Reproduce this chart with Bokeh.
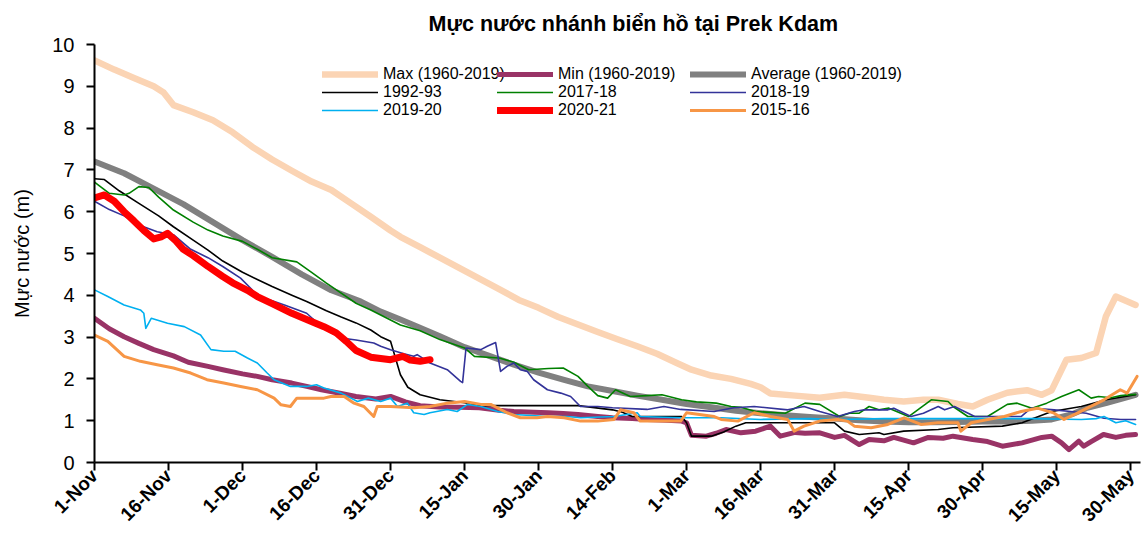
import math
from bokeh.plotting import figure
from bokeh.models import Legend, LegendItem, FixedTicker, Range1d
from bokeh.embed import file_html
from bokeh.resources import INLINE

# ---------------- data (day 0 = 1-Nov) ----------------
tick_days = [0, 15, 30, 45, 60, 75, 90, 105, 120, 135, 150, 165, 180, 195, 210]
tick_labels = ["1-Nov", "16-Nov", "1-Dec", "16-Dec", "31-Dec", "15-Jan", "30-Jan",
               "14-Feb", "1-Mar", "16-Mar", "31-Mar", "15-Apr", "30-Apr", "15-May", "30-May"]

max_days = [0, 4, 8, 12, 14, 16, 20, 24, 28, 32, 36, 40, 44, 48, 52, 56, 60, 62, 66, 70, 74, 78,
            82, 86, 90, 94, 98, 102, 106, 110, 114, 118, 121, 125, 129, 133, 135, 137, 142, 147,
            152, 157, 160, 164, 168, 171, 175, 178, 181, 185, 189, 192, 194, 197, 200, 203, 205,
            207, 211]
max_vals = [9.62, 9.4, 9.2, 9.0, 8.85, 8.55, 8.38, 8.19, 7.9, 7.55, 7.25, 6.98, 6.72, 6.52, 6.2,
            5.88, 5.55, 5.4, 5.15, 4.9, 4.65, 4.4, 4.15, 3.89, 3.7, 3.48, 3.3, 3.12, 2.95, 2.78,
            2.6, 2.38, 2.22, 2.08, 2.0, 1.88, 1.8, 1.65, 1.6, 1.55, 1.62, 1.55, 1.5, 1.46, 1.5,
            1.5, 1.4, 1.34, 1.5, 1.67, 1.73, 1.62, 1.73, 2.46, 2.5, 2.62, 3.5, 3.97, 3.77]

min_days = [0, 3, 6, 9, 12, 16, 19, 23, 26, 30, 33, 36, 40, 43, 46, 50, 53, 57, 60, 63, 66, 70,
            74, 78, 82, 85, 89, 92, 95, 98, 102, 105, 109, 112, 116, 119, 120, 121, 124, 126, 128,
            131, 134, 137, 139, 142, 144, 147, 150, 152, 155, 157, 160, 162, 166, 169, 172, 174,
            178, 181, 184, 188, 192, 194, 196, 197.5, 199.5, 200.5, 202, 204.5, 207, 209, 211]
min_vals = [3.45, 3.2, 3.01, 2.85, 2.7, 2.55, 2.4, 2.3, 2.22, 2.12, 2.06, 1.98, 1.9, 1.82, 1.74,
            1.65, 1.58, 1.52, 1.58, 1.45, 1.36, 1.33, 1.32, 1.31, 1.25, 1.22, 1.2, 1.19, 1.17,
            1.15, 1.1, 1.07, 1.05, 1.03, 1.01, 0.99, 0.95, 0.65, 0.63, 0.7, 0.79, 0.71, 0.75,
            0.87, 0.63, 0.72, 0.7, 0.71, 0.6, 0.65, 0.43, 0.55, 0.52, 0.6, 0.47, 0.6, 0.58, 0.63,
            0.55, 0.5, 0.39, 0.47, 0.6, 0.63, 0.47, 0.31, 0.51, 0.39, 0.5, 0.67, 0.6, 0.65, 0.67]

avg_days = [0, 6, 12, 18, 24, 30, 36, 42, 48, 54, 58, 62, 65, 70, 75, 80, 85, 90, 95, 100, 105,
            110, 115, 120, 125, 130, 135, 140, 145, 150, 155, 160, 165, 170, 175, 180, 185, 190,
            194, 198, 201, 205, 211]
avg_vals = [7.2, 6.92, 6.55, 6.18, 5.75, 5.32, 4.92, 4.5, 4.12, 3.85, 3.61, 3.42, 3.27, 3.02,
            2.76, 2.55, 2.34, 2.15, 1.98, 1.82, 1.71, 1.6, 1.5, 1.4, 1.32, 1.24, 1.18, 1.13, 1.09,
            1.05, 1.01, 0.98, 0.96, 0.96, 0.97, 0.98, 0.98, 1.0, 1.03, 1.15, 1.3, 1.42, 1.62]

y9293_days = [0, 2, 5, 9, 13, 16, 20, 23, 26, 30, 33, 36, 40, 43, 47, 50, 53, 56, 58, 60, 61, 62,
              63.5, 66, 70, 75, 78, 98, 105, 107, 109, 119, 120, 121, 125, 127.5, 130, 132, 150,
              152, 155, 159, 160, 164, 171, 174, 184, 188, 194, 200, 205, 211]
y9293_vals = [6.79, 6.77, 6.5, 6.2, 5.9, 5.64, 5.32, 5.08, 4.82, 4.55, 4.38, 4.21, 4.0, 3.85,
              3.63, 3.48, 3.34, 3.17, 3.01, 2.9, 2.5, 2.1, 1.8, 1.62, 1.5, 1.43, 1.36, 1.36, 1.26,
              1.2, 1.1, 1.1, 0.95, 0.63, 0.63, 0.73, 0.87, 0.95, 0.95, 0.75, 0.67, 0.71, 0.67,
              0.75, 0.79, 0.83, 0.87, 0.95, 1.22, 1.34, 1.5, 1.62]

y1718_days = [0, 3, 6, 7, 9, 11, 13, 16, 20, 23, 26, 30, 33, 36, 41, 44, 47, 50, 53, 56, 58, 62,
              66, 70, 75, 77, 82, 85, 88, 92, 95, 98, 100, 102, 104, 105.6, 108.6, 112, 115, 119,
              122, 126, 129, 131, 134, 140, 144, 147, 151, 153, 155, 157, 159, 161, 165, 169.6,
              173, 174, 177, 181, 185, 187, 190, 193, 196, 199.5, 202, 203.5, 206, 208, 211]
y1718_vals = [6.71, 6.44, 6.4, 6.44, 6.6, 6.58, 6.35, 6.04, 5.75, 5.56, 5.42, 5.29, 5.1, 4.9,
              4.8, 4.55, 4.29, 4.05, 3.81, 3.65, 3.53, 3.29, 3.15, 2.94, 2.74, 2.54, 2.5, 2.4,
              2.22, 2.25, 2.26, 2.06, 1.82, 1.6, 1.54, 1.74, 1.58, 1.6, 1.62, 1.5, 1.45, 1.42,
              1.34, 1.32, 1.22, 1.18, 1.42, 1.39, 1.1, 1.18, 1.18, 1.34, 1.26, 1.3, 1.1, 1.5,
              1.46, 1.34, 1.1, 1.1, 1.39, 1.42, 1.3, 1.42, 1.58, 1.74, 1.54, 1.58, 1.55, 1.6, 1.63]

y1819_days = [0, 3, 6, 9, 12.7, 16, 19.5, 23, 26, 29.6, 31.8, 33, 36, 38.5, 43, 46.5, 50, 53,
              56.6, 58, 60, 62.7, 64.7, 65.4, 68, 71.5, 74.2, 74.6, 75.3, 78.3, 79.6, 81.3, 82.3,
              83.6, 85, 86.3, 87.7, 89, 91.8, 94.5, 96.5, 98.5, 102, 105, 112, 115.4, 118.8,
              125.6, 129.6, 133.7, 140.5, 143.8, 147, 150.6, 154, 156, 160.8, 162, 165.5, 168,
              171, 172.3, 174.3, 178.4, 187.8, 189.8, 194.5, 197.8, 201, 204.6, 208, 211]
y1819_vals = [6.25, 6.05, 5.9, 5.68, 5.52, 5.45, 5.1, 4.9, 4.69, 4.41, 4.15, 3.98, 3.87, 3.77,
              3.57, 3.2, 2.98, 2.93, 2.86, 2.78, 2.7, 2.6, 2.54, 2.58, 2.38, 2.22, 1.94, 1.91,
              2.74, 2.7, 2.78, 2.87, 2.18, 2.3, 2.38, 2.22, 2.18, 1.98, 1.74, 1.66, 1.58, 1.34,
              1.34, 1.31, 1.27, 1.34, 1.27, 1.22, 1.31, 1.34, 1.26, 1.34, 1.22, 1.1, 1.22, 1.26,
              1.26, 1.3, 1.1, 1.18, 1.34, 1.26, 1.34, 1.1, 1.1, 1.3, 1.26, 1.22, 1.18, 1.06,
              1.03, 1.03]

y1920_days = [0, 2.7, 6, 9.3, 10, 10.4, 11.5, 14.8, 18.2, 21.5, 23.6, 26.2, 28.5, 31, 33, 35,
              36.4, 39.7, 43, 45, 46.5, 50, 53.3, 55.5, 58, 60, 61.4, 63.4, 64.7, 66.8, 68, 71.5,
              73.5, 74.6, 75.6, 78.3, 81.7, 85, 91.8, 95.8, 98.5, 105.3, 110, 110.6, 118.8, 127,
              135, 145, 150, 160, 170, 180, 190, 200, 203, 204.6, 207, 209, 211]
y1920_vals = [4.13, 3.97, 3.77, 3.65, 3.57, 3.21, 3.45, 3.33, 3.25, 3.05, 2.7, 2.66, 2.66, 2.5,
              2.38, 2.14, 1.98, 1.82, 1.82, 1.86, 1.78, 1.66, 1.46, 1.54, 1.46, 1.54, 1.34, 1.42,
              1.19, 1.15, 1.19, 1.27, 1.22, 1.31, 1.39, 1.34, 1.22, 1.15, 1.1, 1.1, 1.07, 1.1,
              1.19, 1.1, 1.07, 1.07, 1.03, 1.05, 1.03, 1.05, 1.05, 1.05, 1.05, 1.03, 1.05, 1.1,
              0.95, 1.0, 0.91]

y2021_days = [0, 2, 4, 6, 8, 10, 12, 13.5, 14.8, 16.5, 18, 20, 23, 26, 28, 31, 33, 36, 40, 43,
              46.5, 49, 51, 53, 56, 60, 62.5, 64, 66, 68]
y2021_vals = [6.33, 6.4, 6.25, 6.0, 5.78, 5.55, 5.35, 5.4, 5.48, 5.3, 5.1, 4.95, 4.69, 4.45,
              4.3, 4.12, 3.97, 3.8, 3.57, 3.42, 3.25, 3.1, 2.9, 2.68, 2.52, 2.46, 2.54, 2.45,
              2.42, 2.46]

y1516_days = [0, 2.7, 6, 9.3, 12.7, 16, 19.5, 22.8, 26.2, 29.6, 33, 36.4, 37.8, 39.7, 41, 42.4,
              46.5, 47.9, 50.6, 52.6, 54.6, 56.6, 57.3, 60, 64.7, 68, 71.5, 75, 78.3, 80.3, 83.6,
              86.3, 89.7, 91.8, 95.2, 98.5, 102, 105.3, 106.6, 109.3, 110.6, 115.4, 118.8, 120,
              125.6, 127, 130.4, 133.7, 137, 140.5, 141.8, 143.8, 147, 150.6, 152.6, 154, 157.4,
              160.8, 164.1, 167.5, 170.9, 175, 175.6, 177.7, 181, 184.4, 187.8, 191.1, 194.5,
              196.5, 199.2, 201.2, 204.6, 207.9, 209.3, 211.3]
y1516_vals = [3.05, 2.9, 2.54, 2.42, 2.34, 2.26, 2.14, 1.98, 1.9, 1.82, 1.74, 1.54, 1.38, 1.34,
              1.54, 1.54, 1.54, 1.58, 1.58, 1.42, 1.34, 1.1, 1.34, 1.34, 1.31, 1.34, 1.42, 1.46,
              1.39, 1.39, 1.19, 1.07, 1.07, 1.1, 1.07, 0.99, 0.99, 1.03, 1.26, 1.19, 0.99, 0.99,
              0.99, 1.19, 1.1, 1.03, 0.99, 1.19, 1.1, 1.03, 0.75, 0.87, 0.99, 1.03, 0.99, 0.87,
              0.83, 0.91, 1.07, 0.91, 0.95, 0.95, 0.75, 0.95, 1.03, 1.1, 1.22, 1.3, 1.18, 1.03,
              1.18, 1.3, 1.5, 1.74, 1.66, 2.06]

series = [
    ("Max (1960-2019)", max_days, max_vals, "#FBD4B4", 6.5),
    ("Min (1960-2019)", min_days, min_vals, "#993366", 5),
    ("Average (1960-2019)", avg_days, avg_vals, "#808080", 6),
    ("1992-93", y9293_days, y9293_vals, "#000000", 1.6),
    ("2017-18", y1718_days, y1718_vals, "#008000", 1.6),
    ("2018-19", y1819_days, y1819_vals, "#333399", 1.6),
    ("2019-20", y1920_days, y1920_vals, "#00B0F0", 1.6),
    ("2020-21", y2021_days, y2021_vals, "#FF0000", 7),
    ("2015-16", y1516_days, y1516_vals, "#F79646", 3),
]

FONT = "Liberation Sans"

p = figure(width=1142, height=535, output_backend="svg", toolbar_location=None,
           x_range=Range1d(0, 212), y_range=Range1d(0, 10),
           min_border_left=94, min_border_right=2, min_border_top=44, min_border_bottom=60)
p.outline_line_color = None
p.xgrid.visible = False
p.ygrid.visible = False
p.background_fill_color = "white"

p.title.text = "Mực nước nhánh biển hồ tại Prek Kdam"
p.title.align = "left"
p.title.offset = 334
p.title.text_font = FONT
p.title.text_font_size = "21.5px"
p.title.text_font_style = "bold"
p.title.text_color = "black"
p.title.standoff = 18

xa = p.xaxis[0]
xa.ticker = FixedTicker(ticks=tick_days)
xa.major_label_overrides = {d: lab for d, lab in zip(tick_days, tick_labels)}
xa.major_label_orientation = math.pi / 4
xa.major_label_text_font = FONT
xa.major_label_text_font_size = "19px"
xa.major_label_text_font_style = "bold"
xa.major_label_text_color = "black"
xa.axis_line_width = 2
xa.axis_line_color = "black"
xa.major_tick_in = 0
xa.major_tick_out = 8
xa.major_tick_line_width = 2
xa.minor_tick_line_color = None
xa.major_label_standoff = 2

ya = p.yaxis[0]
ya.ticker = FixedTicker(ticks=list(range(0, 11)))
ya.major_label_text_font = FONT
ya.major_label_text_font_size = "20px"
ya.major_label_text_color = "black"
ya.axis_line_width = 2
ya.axis_line_color = "black"
ya.major_tick_in = 0
ya.major_tick_out = 8
ya.major_tick_line_width = 2
ya.minor_tick_line_color = None
ya.major_label_standoff = 12
ya.axis_label = "Mực nước (m)"
ya.axis_label_text_font = FONT
ya.axis_label_text_font_size = "20px"
ya.axis_label_text_font_style = "normal"
ya.axis_label_text_color = "black"
ya.axis_label_standoff = 16

renderers = []
for name, d, v, c, w in series:
    r = p.line(d, v, line_color=c, line_width=w, line_join="round", line_cap="round")
    renderers.append((name, r))

cols = [renderers[0::3], renderers[1::3], renderers[2::3]]
col_x = [228, 403, 596]
for items, cx in zip(cols, col_x):
    leg = Legend(items=[LegendItem(label=n, renderers=[r]) for n, r in items],
                 location=(cx, 343), orientation="vertical",
                 glyph_width=56, glyph_height=18, label_height=18, spacing=0,
                 padding=0, margin=0, border_line_color=None, background_fill_alpha=0,
                 label_text_font=FONT, label_text_font_size="16px", label_standoff=5,
                 label_text_color="black")
    p.add_layout(leg)

open("out.html", "w").write(file_html(p, INLINE))
